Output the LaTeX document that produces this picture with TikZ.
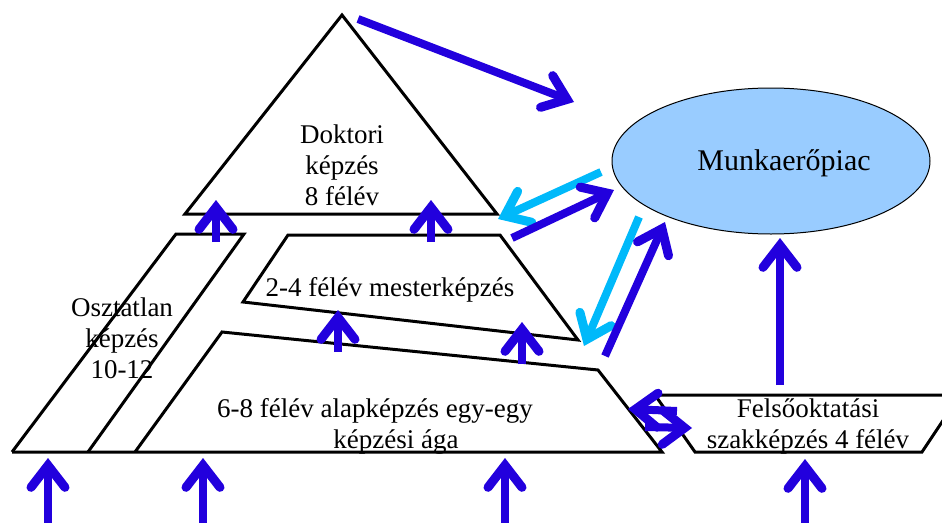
\documentclass[tikz,border=0pt]{standalone}
\usepackage{fontspec}
\setmainfont{Liberation Serif}
\usetikzlibrary{arrows.meta,shapes.geometric}
\definecolor{dblue}{RGB}{34,0,221}
\definecolor{lblue}{RGB}{0,185,250}
\definecolor{mfill}{RGB}{153,204,255}
\begin{document}
\begin{tikzpicture}[x=1pt,y=-1pt,
  outline/.style={draw=black,line width=3pt,line join=miter},
  arr/.style={line width=8pt,-{Straight Barb[length=22pt,width=34pt,line width=9pt,line cap=round,line join=miter]}},
  darr/.style={arr,draw=dblue},
  larr/.style={arr,draw=lblue},
  lbl/.style={font=\fontsize{27}{31}\selectfont,align=center,inner sep=0pt}]
\useasboundingbox (0,0) rectangle (942,522);
\begin{scope}
\clip (0,0) rectangle (942,522);
% shapes
\draw[outline] (185,214) -- (342,15) -- (497,214) -- cycle;
\draw[outline] (12,452) -- (176,234) -- (244,234) -- (88,452);
\draw[outline] (288,235) -- (500,235) -- (578,340) -- (243,302) -- cycle;
\draw[outline] (12,452) -- (662,452) -- (598,370) -- (222,332) -- (135,452);
\draw[outline] (655,395) -- (960,395) -- (922,452) -- (695,452) -- cycle;
\node[ellipse,draw=black,line width=1pt,fill=mfill,minimum width=318pt,minimum height=146pt,inner sep=0pt] (mkt) at (771,161) {};
% texts
\node[lbl] (dok) at (342,165) {Doktori\\képzés\\8 félév};
\node[lbl] (mes) at (390,290) {2-4 félév mesterképzés};
\node[lbl] (osz) at (122,338) {Osztatlan\\képzés\\10-12};
\node[lbl] (ala) at (375,426) {6-8 félév alapképzés egy-egy\\\hspace*{42pt}képzési ága};
\node[lbl] (fel) at (808,426) {Felsőoktatási\\szakképzés 4 félév};
\node[font=\fontsize{30}{34}\selectfont,inner sep=0pt] (mkttxt) at (784,163) {Munkaerőpiac};
% arrow end points
\coordinate (t1) at (358,19);   \coordinate (t2) at (574,102);
\coordinate (d1a) at (216,242); \coordinate (d1b) at (216,200);
\coordinate (d2a) at (431,242); \coordinate (d2b) at (431,200);
\coordinate (m1a) at (338,352); \coordinate (m1b) at (338,310);
\coordinate (m2a) at (522,364); \coordinate (m2b) at (522,322);
\coordinate (b1a) at (48,530);  \coordinate (b1b) at (48,458);
\coordinate (b2a) at (203,530); \coordinate (b2b) at (203,458);
\coordinate (b3a) at (505,530); \coordinate (b3b) at (505,458);
\coordinate (b4a) at (805,530); \coordinate (b4b) at (805,459);
\coordinate (f1a) at (780,385); \coordinate (f1b) at (780,238);
\coordinate (l1a) at (601,172); \coordinate (l1b) at (498,219);
\coordinate (k2a) at (512,238); \coordinate (k2b) at (614,190);
\coordinate (l3a) at (639,217); \coordinate (l3b) at (584,346);
\coordinate (k4a) at (605,356); \coordinate (k4b) at (665,222);
\coordinate (e1a) at (677,411); \coordinate (e1b) at (628,409);
\coordinate (e2a) at (645,427); \coordinate (e2b) at (692,428);
% arrows
\draw[darr] (t1) -- (t2);
\draw[darr] (d1a) -- (d1b);
\draw[darr] (d2a) -- (d2b);
\draw[darr] (m1a) -- (m1b);
\draw[darr] (m2a) -- (m2b);
\draw[darr] (b1a) -- (b1b);
\draw[darr] (b2a) -- (b2b);
\draw[darr] (b3a) -- (b3b);
\draw[darr] (b4a) -- (b4b);
\draw[darr] (f1a) -- (f1b);
\draw[larr] (l1a) -- (l1b);
\draw[darr] (k2a) -- (k2b);
\draw[larr] (l3a) -- (l3b);
\draw[darr] (k4a) -- (k4b);
\draw[darr] (e1a) -- (e1b);
\draw[darr] (e2a) -- (e2b);
\end{scope}
\end{tikzpicture}
\end{document}
